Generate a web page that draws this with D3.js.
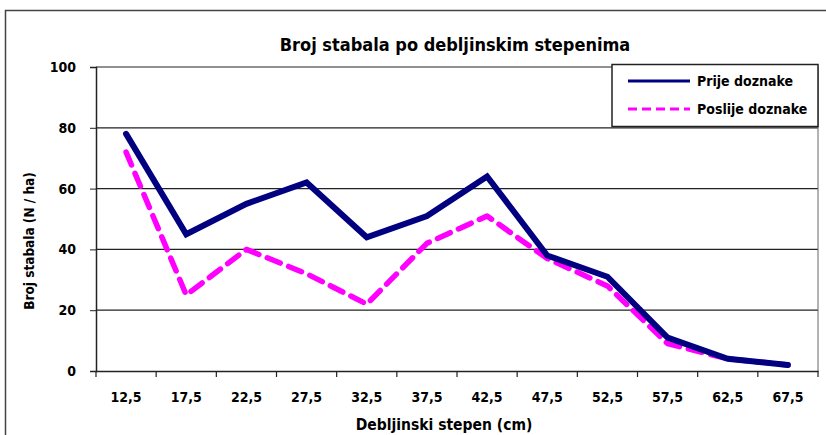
<!DOCTYPE html>
<html>
<head>
  <meta charset="utf-8">
  <title>Broj stabala po debljinskim stepenima</title>
  <script src="https://d3js.org/d3.v7.min.js"></script>
  <style>
    body { margin: 0; background: #fff; }
    svg text {
      font-family: "Liberation Sans Narrow", "Arial Narrow", "DejaVu Sans Condensed", sans-serif;
      font-weight: bold;
      fill: #000;
    }
    .grid line { stroke: #222; stroke-width: 1.2px; }
  </style>
</head>
<body>
  <svg width="826" height="435"></svg>

  <script>
    // data
    const categories = ['12,5', '17,5', '22,5', '27,5', '32,5', '37,5', '42,5', '47,5', '52,5', '57,5', '62,5', '67,5'];
    const prije = [78, 45, 55, 62, 44, 51, 64, 38, 31, 11, 4, 2];
    const poslije = [72, 25, 40, 32, 22, 42, 51, 37, 28, 9, 4, 2];
    const yTicks = [0, 20, 40, 60, 80, 100];
    const seriesNames = ['Prije doznake', 'Poslije doznake'];

    const svg = d3.select('svg');
    const margin = { left: 96, right: 818, top: 67, bottom: 371 };

    // chart area border (runs off the right and bottom edge)
    svg.append('rect')
      .attr('x', 5.5).attr('y', 10.5)
      .attr('width', 830).attr('height', 440)
      .attr('fill', 'none').attr('stroke', '#444').attr('stroke-width', 1.5);

    const x = d3.scaleBand().domain(categories).range([margin.left, margin.right]);
    const y = d3.scaleLinear().domain([0, 100]).range([margin.bottom, margin.top]);

    // grid lines
    svg.append('g').attr('class', 'grid')
      .selectAll('line')
      .data(yTicks.filter(d => d > 0))
      .enter().append('line')
      .attr('x1', margin.left).attr('x2', margin.right)
      .attr('y1', d => y(d)).attr('y2', d => y(d));

    // right border of plot area
    svg.append('line')
      .attr('x1', margin.right).attr('x2', margin.right)
      .attr('y1', margin.top).attr('y2', margin.bottom)
      .attr('stroke', '#666').attr('stroke-width', 1);

    // y axis
    const yAxis = svg.append('g')
      .attr('transform', `translate(${margin.left},0)`)
      .call(d3.axisLeft(y).tickValues(yTicks).tickSize(6).tickPadding(14));
    yAxis.select('.domain').attr('stroke', '#222').attr('stroke-width', 1.5);
    yAxis.selectAll('.tick line').attr('stroke', '#222');
    yAxis.selectAll('.tick text').attr('font-size', 14);

    // x axis
    const xAxis = svg.append('g')
      .attr('transform', `translate(0,${margin.bottom})`)
      .call(d3.axisBottom(x).tickSize(0).tickPadding(21));
    xAxis.select('.domain').attr('stroke', '#222').attr('stroke-width', 1.5);
    xAxis.selectAll('.tick text').attr('font-size', 14);
    // tick marks at band edges
    svg.append('g')
      .selectAll('line')
      .data(categories.concat(['end']))
      .enter().append('line')
      .attr('x1', (d, i) => i < categories.length ? x(d) : margin.right)
      .attr('x2', (d, i) => i < categories.length ? x(d) : margin.right)
      .attr('y1', margin.bottom).attr('y2', margin.bottom + 6)
      .attr('stroke', '#222').attr('stroke-width', 1.2);

    // lines
    const line = d3.line()
      .x((d, i) => x(categories[i]) + x.bandwidth() / 2)
      .y(d => y(d));

    svg.append('path')
      .datum(poslije)
      .attr('d', line)
      .attr('fill', 'none')
      .attr('stroke', '#ff00ff')
      .attr('stroke-width', 5.5)
      .attr('stroke-dasharray', '14,9')
      .attr('stroke-linejoin', 'round')
      .attr('stroke-linecap', 'round');

    svg.append('path')
      .datum(prije)
      .attr('d', line)
      .attr('fill', 'none')
      .attr('stroke', '#000080')
      .attr('stroke-width', 6)
      .attr('stroke-linejoin', 'miter')
      .attr('stroke-linecap', 'round');

    // title
    svg.append('text')
      .attr('x', 455).attr('y', 51)
      .attr('text-anchor', 'middle')
      .attr('font-size', 18)
      .text('Broj stabala po debljinskim stepenima');

    // axis titles
    svg.append('text')
      .attr('transform', 'translate(34,241) rotate(-90)')
      .attr('text-anchor', 'middle')
      .attr('font-size', 13.5)
      .text('Broj stabala (N / ha)');

    svg.append('text')
      .attr('x', 444).attr('y', 430)
      .attr('text-anchor', 'middle')
      .attr('font-size', 15.5)
      .text('Debljinski stepen (cm)');

    // legend
    const legend = svg.append('g');
    legend.append('rect')
      .attr('x', 612).attr('y', 64.5)
      .attr('width', 206).attr('height', 62)
      .attr('fill', '#fff').attr('stroke', '#222').attr('stroke-width', 1.5);

    const legendStyles = [
      { color: '#000080', dash: null },
      { color: '#ff00ff', dash: '9,5' }
    ];
    seriesNames.forEach((name, i) => {
      const ly = 81 + i * 28;
      legend.append('line')
        .attr('x1', 628).attr('x2', 690)
        .attr('y1', ly).attr('y2', ly)
        .attr('stroke', legendStyles[i].color)
        .attr('stroke-width', 3)
        .attr('stroke-dasharray', legendStyles[i].dash);
      legend.append('text')
        .attr('x', 697).attr('y', ly + 5)
        .attr('font-size', 14)
        .text(name);
    });
  </script>
</body>
</html>
